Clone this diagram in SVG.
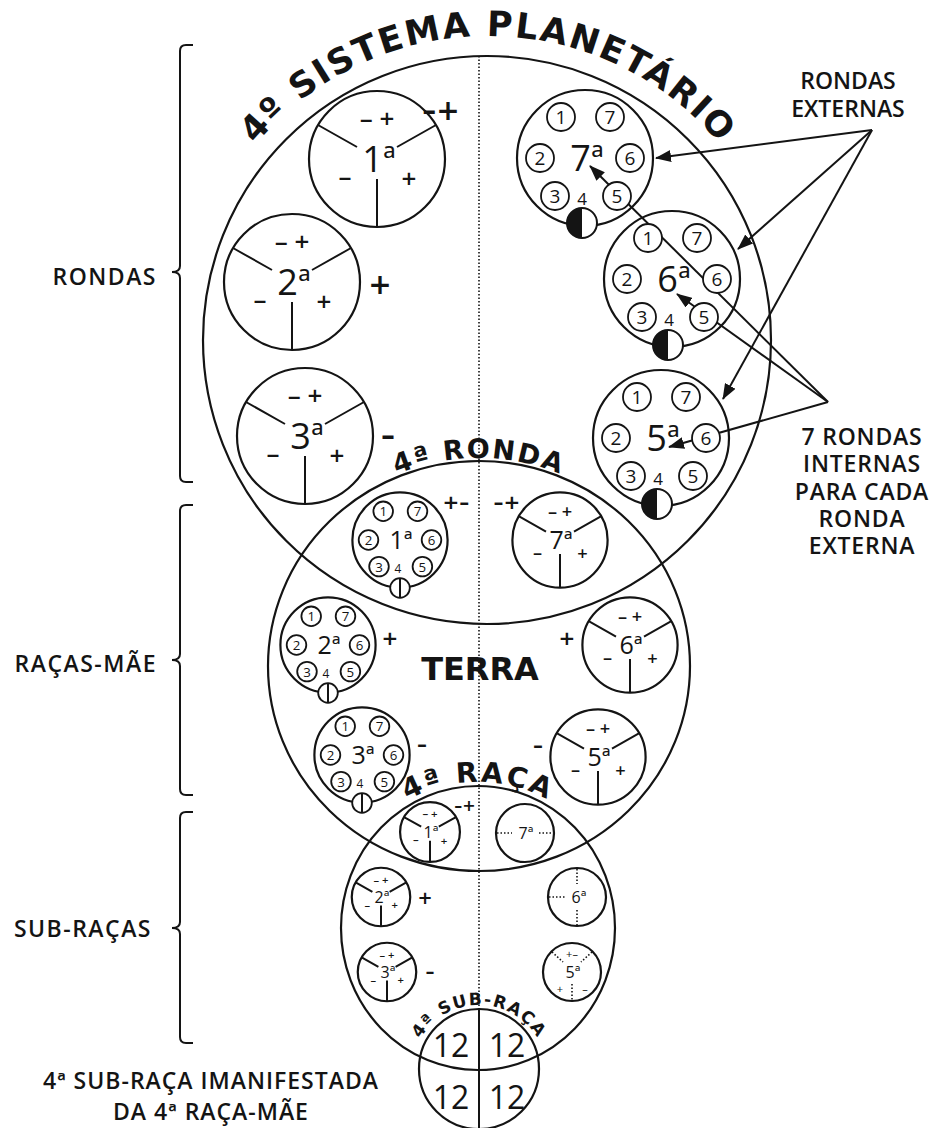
<svg xmlns="http://www.w3.org/2000/svg" width="938" height="1128" viewBox="0 0 938 1128">
<style>
.ol{fill:none;stroke:#141414;stroke-width:2.2}
.ln{fill:none;stroke:#141414;stroke-width:2}
.sc{fill:#fff;stroke:#141414;stroke-width:1.8}
.ns{vector-effect:non-scaling-stroke}
.dot{fill:none;stroke:#141414;stroke-width:1.6;stroke-dasharray:1.5 2}
text{fill:#141414}
.pm{font-family:"Open Sans","DejaVu Sans",sans-serif;font-size:26px;font-weight:600;text-anchor:middle}
.dg{font-family:"Open Sans","DejaVu Sans",sans-serif;font-size:19px;font-weight:500;text-anchor:middle}
.nb{font-family:"Open Sans","DejaVu Sans",sans-serif;font-weight:500;text-anchor:middle}
.hv{font-family:"DejaVu Sans","Liberation Sans",sans-serif;font-weight:bold}
.hm{font-family:"DejaVu Sans","Liberation Sans",sans-serif;font-weight:bold;text-anchor:middle}
.lb{font-family:"Open Sans","Liberation Sans",sans-serif;font-weight:600;font-size:23px}
.arr{fill:none;stroke:#141414;stroke-width:2;marker-end:url(#ah)}
</style>
<defs>
<marker id="ah" markerUnits="userSpaceOnUse" markerWidth="16" markerHeight="12" refX="15" refY="6" orient="auto"><path d="M0,0L16,6L0,12z" fill="#141414"/></marker>
<path id="arcT" d="M185,339A302,302 0 0 1 791,339" fill="none"/>
<path id="arcR" d="M265,672A214,214 0 0 1 693,672" fill="none"/>
<path id="arcC" d="M332,928A146,146 0 0 1 624,928" fill="none"/>
<path id="arcS" d="M411,1073A68,68 0 0 1 547,1073" fill="none"/>
<g id="tri">
<circle r="68" class="ol ns"/>
<path class="ln ns" d="M-20,-12L-59,-34M20,-12L59,-34M0,20V68"/>
<text class="pm" x="0" y="-31">– +</text>
<text class="pm" x="-32" y="27">–</text>
<text class="pm" x="32" y="29">+</text>
</g>
<g id="sev">
<circle r="68" class="ol ns"/>
<circle cx="-24" cy="-41" r="14" class="sc ns"/><text class="dg" x="-24" y="-34">1</text>
<circle cx="25" cy="-41" r="14" class="sc ns"/><text class="dg" x="25" y="-34">7</text>
<circle cx="-45" cy="0" r="14" class="sc ns"/><text class="dg" x="-45" y="7">2</text>
<circle cx="45" cy="0" r="14" class="sc ns"/><text class="dg" x="45" y="7">6</text>
<circle cx="-30" cy="38" r="14" class="sc ns"/><text class="dg" x="-30" y="45">3</text>
<circle cx="32" cy="38" r="14" class="sc ns"/><text class="dg" x="32" y="45">5</text>
<text class="dg" x="-3" y="47" style="font-size:17px">4</text>
</g>
<g id="half"><circle r="15" fill="#fff" stroke="#141414" stroke-width="2" class="ns"/><path d="M0,-15A15,15 0 0 0 0,15Z" fill="#141414"/></g>
<g id="split"><circle r="14" class="sc ns"/><path d="M0,-14V14" class="ln ns"/></g>
</defs>
<rect width="938" height="1128" fill="#fff"/>

<g id="axis"><path class="dot" d="M479,56V1009"/></g>

<g id="sistema">
<circle cx="487" cy="340" r="284" class="ol"/>
<text class="hv" font-size="35" letter-spacing="2"><textPath href="#arcT" startOffset="50%" text-anchor="middle">4º SISTEMA PLANETÁRIO</textPath></text>
</g>

<g id="terra">
<ellipse cx="479" cy="666" rx="211" ry="205" class="ol"/>
<text class="hm" x="480" y="680" font-size="32">TERRA</text>
<text class="hv" font-size="27" letter-spacing="2"><textPath href="#arcR" startOffset="50%" text-anchor="middle">4ª RONDA</textPath></text>
</g>

<g id="subracas">
<ellipse cx="478" cy="928" rx="137" ry="142" class="ol"/>
<text class="hv" font-size="28" letter-spacing="2.5"><textPath href="#arcC" startOffset="50%" text-anchor="middle">4ª RAÇA</textPath></text>
</g>

<g id="sub4">
<circle cx="479" cy="1069" r="60" class="ol"/>
<path class="ln" d="M479,1009V1128"/>
<text class="hv" font-size="17" letter-spacing="1.5"><textPath href="#arcS" startOffset="50%" text-anchor="middle">4ª SUB-RAÇA</textPath></text>
<text class="nb" font-size="32" font-weight="600" x="451" y="1057">12</text>
<text class="nb" font-size="32" font-weight="600" x="507" y="1057">12</text>
<text class="nb" font-size="32" font-weight="600" x="451" y="1109">12</text>
<text class="nb" font-size="32" font-weight="600" x="507" y="1109">12</text>
</g>

<g id="connectors">
<path class="arr" d="M872,130L656,158"/>
<path class="arr" d="M872,130L738,249"/>
<path class="arr" d="M872,130L723,399"/>
<path class="arr" d="M828,402L590,166"/>
<path class="arr" d="M828,402L677,294"/>
<path class="arr" d="M828,402L669,447"/>
</g>

<g id="ronda1"><use href="#tri" transform="translate(377,159)"/><text class="nb" x="379" y="172" font-size="36">1ª</text><text class="hm" x="441" y="120" font-size="28">–+</text></g>
<g id="ronda2"><use href="#tri" transform="translate(292,282)"/><text class="nb" x="294" y="295" font-size="36">2ª</text><text class="hm" x="380" y="294" font-size="28">+</text></g>
<g id="ronda3"><use href="#tri" transform="translate(305,436)"/><text class="nb" x="307" y="449" font-size="36">3ª</text><text class="hm" x="388" y="445" font-size="28">–</text></g>
<g id="ronda7"><use href="#sev" transform="translate(585,158)"/><use href="#half" transform="translate(582,223)"/><text class="nb" x="587" y="171" font-size="36">7ª</text></g>
<g id="ronda6"><use href="#sev" transform="translate(672,279)"/><use href="#half" transform="translate(668,345)"/><text class="nb" x="674" y="292" font-size="36">6ª</text></g>
<g id="ronda5"><use href="#sev" transform="translate(661,438)"/><use href="#half" transform="translate(657,504)"/><text class="nb" x="663" y="451" font-size="36">5ª</text></g>

<g id="raca1"><use href="#sev" transform="translate(400,540) scale(0.7)"/><use href="#split" transform="translate(400,588) scale(0.7)"/><text class="nb" x="401" y="549" font-size="25">1ª</text><text class="hm" x="456" y="509" font-size="20">+–</text></g>
<g id="raca2"><use href="#sev" transform="translate(328,645) scale(0.7)"/><use href="#split" transform="translate(328,693) scale(0.7)"/><text class="nb" x="329" y="654" font-size="25">2ª</text><text class="hm" x="390" y="645" font-size="20">+</text></g>
<g id="raca3"><use href="#sev" transform="translate(362,755) scale(0.7)"/><use href="#split" transform="translate(362,803) scale(0.7)"/><text class="nb" x="363" y="764" font-size="25">3ª</text><text class="hm" x="422" y="751" font-size="20">–</text></g>
<g id="raca7"><use href="#tri" transform="translate(560,540) scale(0.7)"/><text class="nb" x="561" y="549" font-size="25">7ª</text><text class="hm" x="507" y="509" font-size="20">–+</text></g>
<g id="raca6"><use href="#tri" transform="translate(630,645) scale(0.7)"/><text class="nb" x="631" y="654" font-size="25">6ª</text><text class="hm" x="567" y="645" font-size="20">+</text></g>
<g id="raca5"><use href="#tri" transform="translate(598,757) scale(0.7)"/><text class="nb" x="599" y="766" font-size="25">5ª</text><text class="hm" x="538" y="752" font-size="20">–</text></g>

<g id="sub1"><use href="#tri" transform="translate(430,832) scale(0.44)"/><text class="nb" x="431" y="838" font-size="16">1ª</text><text class="hm" x="465" y="811" font-size="16">–+</text></g>
<g id="sub2"><use href="#tri" transform="translate(381,897) scale(0.43)"/><text class="nb" x="382" y="903" font-size="16">2ª</text><text class="hm" x="425" y="904" font-size="18">+</text></g>
<g id="sub3"><use href="#tri" transform="translate(387,972) scale(0.43)"/><text class="nb" x="388" y="978" font-size="16">3ª</text><text class="hm" x="430" y="978" font-size="18">–</text></g>
<g id="sub7"><circle cx="525" cy="833" r="29" class="ol"/><path class="dot" d="M497,833H512M539,833H553"/><text class="nb" x="526" y="839" font-size="16">7ª</text></g>
<g id="sub6"><circle cx="577" cy="897" r="29" class="ol"/><path class="dot" d="M549,897H565M577,869V884M577,910V925"/><text class="nb" x="579" y="903" font-size="16">6ª</text></g>
<g id="sub5"><circle cx="572" cy="972" r="29" class="ol"/><path class="dot" d="M552,952L563,962M592,952L581,962M572,984V1000"/><text class="nb" x="572" y="958" font-size="11">+–</text><text class="nb" x="573" y="978" font-size="16">5ª</text><text class="nb" x="560" y="993" font-size="11">+</text><text class="nb" x="585" y="993" font-size="11">–</text></g>

<g id="braces">
<path class="ln" d="M193,45H186Q180,45 180,51V266Q180,272 172,272Q180,272 180,278V476Q180,482 186,482H193"/>
<path class="ln" d="M193,505H186Q180,505 180,511V654Q180,660 172,660Q180,660 180,666V789Q180,795 186,795H193"/>
<path class="ln" d="M193,812H186Q180,812 180,818V922Q180,928 172,928Q180,928 180,934V1037Q180,1043 186,1043H193"/>
</g>

<g id="labels">
<text class="lb" x="157" y="285" text-anchor="end" letter-spacing="1.5">RONDAS</text>
<text class="lb" x="157" y="672" text-anchor="end" letter-spacing="1.5">RAÇAS-MÃE</text>
<text class="lb" x="152" y="937" text-anchor="end" letter-spacing="1.5">SUB-RAÇAS</text>
<text class="lb" x="848" y="89" text-anchor="middle">RONDAS</text>
<text class="lb" x="848" y="117" text-anchor="middle">EXTERNAS</text>
<text class="lb" x="862" y="445" text-anchor="middle" letter-spacing="0.8">7 RONDAS</text>
<text class="lb" x="862" y="472" text-anchor="middle" letter-spacing="0.8">INTERNAS</text>
<text class="lb" x="862" y="500" text-anchor="middle" letter-spacing="0.8">PARA CADA</text>
<text class="lb" x="862" y="527" text-anchor="middle" letter-spacing="0.8">RONDA</text>
<text class="lb" x="862" y="554" text-anchor="middle" letter-spacing="0.8">EXTERNA</text>
<text class="lb" x="211" y="1089" text-anchor="middle" font-size="25" letter-spacing="1">4ª SUB-RAÇA IMANIFESTADA</text>
<text class="lb" x="211" y="1120" text-anchor="middle" font-size="25" letter-spacing="1">DA 4ª RAÇA-MÃE</text>
</g>
</svg>
